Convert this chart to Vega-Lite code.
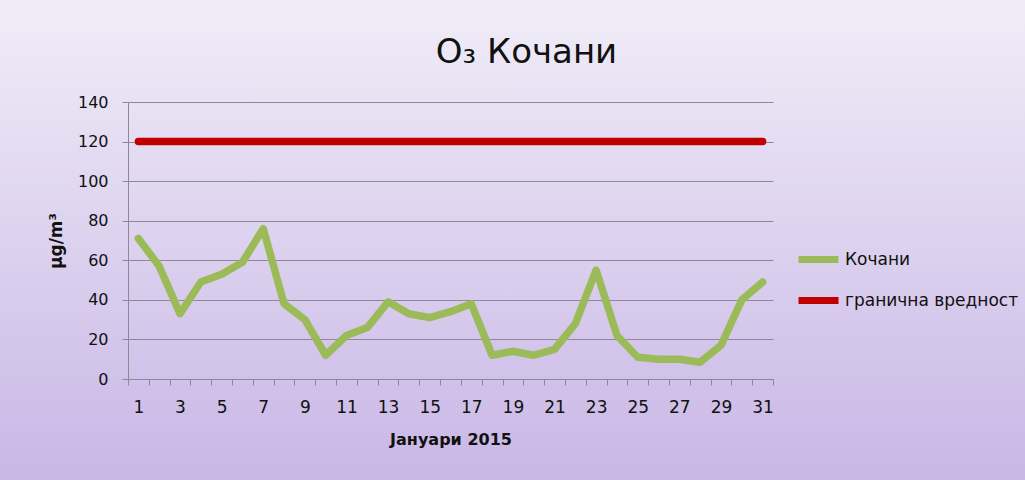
{
  "$schema": "https://vega.github.io/schema/vega-lite/v6.json",
  "width": 645,
  "height": 277,
  "autosize": {"type": "none"},
  "padding": {"left": 128, "top": 102, "right": 252, "bottom": 101},
  "background": "#dcd2ef",
  "view": {
    "fill": {"gradient": "linear", "x1": 0, "y1": 0, "x2": 0, "y2": 1, "stops": [{"offset": 0, "color": "#e9e3f5"}, {"offset": 1, "color": "#d3c5ec"}]},
    "stroke": {"gradient": "linear", "x1": 0, "y1": -0.3, "x2": 0, "y2": 1.35, "stops": [{"offset": 0, "color": "#efebf7"}, {"offset": 1, "color": "#c9b7e6"}]},
    "strokeWidth": 1400
  },
  "title": {
    "text": "O₃ Кочани",
    "font": "DejaVu Sans",
    "fontSize": 34,
    "fontWeight": "normal",
    "color": "#111111",
    "anchor": "middle",
    "dx": 76,
    "offset": 24
  },
  "data": {
    "values": [
      {"day": 1, "series": "Кочани", "value": 71},
      {"day": 2, "series": "Кочани", "value": 57},
      {"day": 3, "series": "Кочани", "value": 33},
      {"day": 4, "series": "Кочани", "value": 49},
      {"day": 5, "series": "Кочани", "value": 53},
      {"day": 6, "series": "Кочани", "value": 59},
      {"day": 7, "series": "Кочани", "value": 76},
      {"day": 8, "series": "Кочани", "value": 38},
      {"day": 9, "series": "Кочани", "value": 30},
      {"day": 10, "series": "Кочани", "value": 12},
      {"day": 11, "series": "Кочани", "value": 22},
      {"day": 12, "series": "Кочани", "value": 26},
      {"day": 13, "series": "Кочани", "value": 39},
      {"day": 14, "series": "Кочани", "value": 33},
      {"day": 15, "series": "Кочани", "value": 31},
      {"day": 16, "series": "Кочани", "value": 34},
      {"day": 17, "series": "Кочани", "value": 38},
      {"day": 18, "series": "Кочани", "value": 12},
      {"day": 19, "series": "Кочани", "value": 14},
      {"day": 20, "series": "Кочани", "value": 12},
      {"day": 21, "series": "Кочани", "value": 15},
      {"day": 22, "series": "Кочани", "value": 28},
      {"day": 23, "series": "Кочани", "value": 55},
      {"day": 24, "series": "Кочани", "value": 22},
      {"day": 25, "series": "Кочани", "value": 11},
      {"day": 26, "series": "Кочани", "value": 10},
      {"day": 27, "series": "Кочани", "value": 10},
      {"day": 28, "series": "Кочани", "value": 8.5},
      {"day": 29, "series": "Кочани", "value": 17},
      {"day": 30, "series": "Кочани", "value": 40},
      {"day": 31, "series": "Кочани", "value": 49},
      {"day": 1, "series": "гранична вредност", "value": 120},
      {"day": 2, "series": "гранична вредност", "value": 120},
      {"day": 3, "series": "гранична вредност", "value": 120},
      {"day": 4, "series": "гранична вредност", "value": 120},
      {"day": 5, "series": "гранична вредност", "value": 120},
      {"day": 6, "series": "гранична вредност", "value": 120},
      {"day": 7, "series": "гранична вредност", "value": 120},
      {"day": 8, "series": "гранична вредност", "value": 120},
      {"day": 9, "series": "гранична вредност", "value": 120},
      {"day": 10, "series": "гранична вредност", "value": 120},
      {"day": 11, "series": "гранична вредност", "value": 120},
      {"day": 12, "series": "гранична вредност", "value": 120},
      {"day": 13, "series": "гранична вредност", "value": 120},
      {"day": 14, "series": "гранична вредност", "value": 120},
      {"day": 15, "series": "гранична вредност", "value": 120},
      {"day": 16, "series": "гранична вредност", "value": 120},
      {"day": 17, "series": "гранична вредност", "value": 120},
      {"day": 18, "series": "гранична вредност", "value": 120},
      {"day": 19, "series": "гранична вредност", "value": 120},
      {"day": 20, "series": "гранична вредност", "value": 120},
      {"day": 21, "series": "гранична вредност", "value": 120},
      {"day": 22, "series": "гранична вредност", "value": 120},
      {"day": 23, "series": "гранична вредност", "value": 120},
      {"day": 24, "series": "гранична вредност", "value": 120},
      {"day": 25, "series": "гранична вредност", "value": 120},
      {"day": 26, "series": "гранична вредност", "value": 120},
      {"day": 27, "series": "гранична вредност", "value": 120},
      {"day": 28, "series": "гранична вредност", "value": 120},
      {"day": 29, "series": "гранична вредност", "value": 120},
      {"day": 30, "series": "гранична вредност", "value": 120},
      {"day": 31, "series": "гранична вредност", "value": 120}
    ]
  },
  "mark": {"type": "line", "strokeWidth": 7.5, "strokeCap": "round", "strokeJoin": "round"},
  "encoding": {
    "x": {
      "field": "day",
      "type": "ordinal",
      "scale": {"type": "band", "paddingInner": 0, "paddingOuter": 0},
      "axis": {
        "title": "Јануари 2015",
        "titleFont": "DejaVu Sans",
        "titleFontSize": 16,
        "titleFontWeight": "bold",
        "titleColor": "#111111",
        "titlePadding": 16,
        "labelAngle": 0,
        "labelExpr": "datum.value % 2 == 1 ? datum.label : ''",
        "labelFont": "DejaVu Sans",
        "labelFontSize": 17,
        "labelColor": "#111111",
        "labelPadding": 14,
        "tickBand": "extent",
        "tickSize": 6,
        "tickColor": "#8d8797",
        "domainColor": "#8d8797",
        "grid": false
      }
    },
    "y": {
      "field": "value",
      "type": "quantitative",
      "scale": {"domain": [0, 140], "nice": false},
      "axis": {
        "values": [0, 20, 40, 60, 80, 100, 120, 140],
        "title": "µg/m³",
        "titleFont": "DejaVu Sans",
        "titleFontSize": 17,
        "titleFontWeight": "bold",
        "titleColor": "#111111",
        "titlePadding": 12,
        "labelFont": "DejaVu Sans",
        "labelFontSize": 16,
        "labelColor": "#111111",
        "labelPadding": 14,
        "tickSize": 6,
        "tickColor": "#8d8797",
        "domainColor": "#8d8797",
        "grid": true,
        "gridColor": "#8d8797",
        "gridWidth": 1
      }
    },
    "color": {
      "field": "series",
      "type": "nominal",
      "sort": ["Кочани", "гранична вредност"],
      "scale": {"domain": ["Кочани", "гранична вредност"], "range": ["#9bbb59", "#c00000"]},
      "legend": {
        "title": null,
        "orient": "none",
        "legendX": 667,
        "legendY": 134,
        "symbolType": "stroke",
        "symbolSize": 1600,
        "symbolStrokeWidth": 7,
        "labelFont": "DejaVu Sans",
        "labelFontSize": 17,
        "labelColor": "#111111",
        "labelOffset": 3,
        "labelLimit": 400,
        "rowPadding": 3
      }
    }
  }
}
